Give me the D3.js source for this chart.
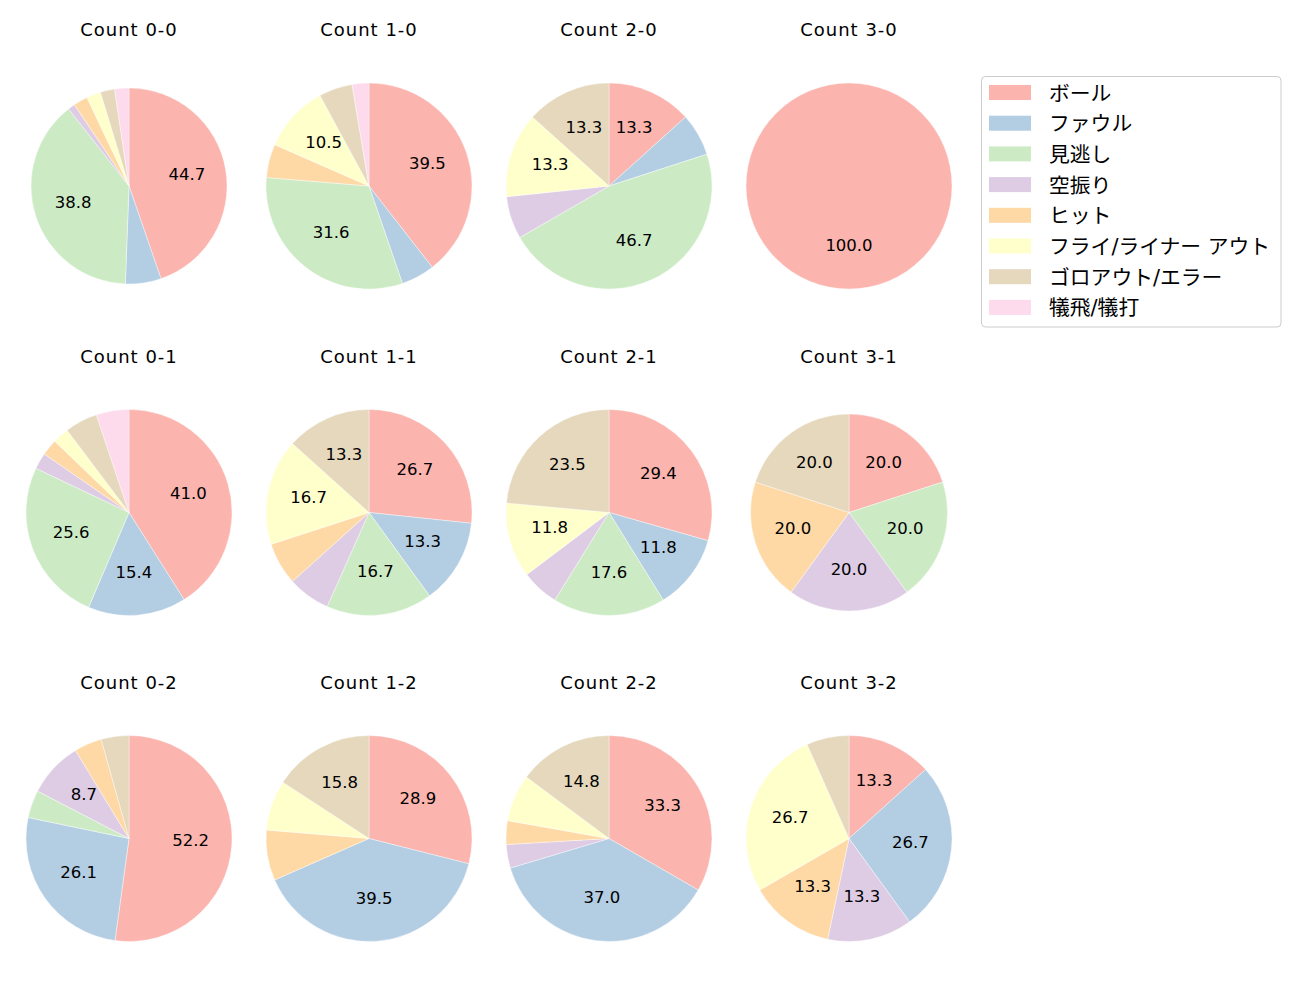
<!DOCTYPE html>
<html><head><meta charset="utf-8">
<script src="https://cdn.jsdelivr.net/npm/d3@7"></script>
<style>body{margin:0;background:#fff;} svg{display:block;font-family:"DejaVu Sans","Noto Sans CJK JP",sans-serif;}</style>
</head><body>
<script>
// ---- data ----
const categories = ["ボール","ファウル","見逃し","空振り","ヒット","フライ/ライナー アウト","ゴロアウト/エラー","犠飛/犠打"];
const colors = ["#fbb4ae","#b3cde3","#ccebc5","#decbe4","#fed9a6","#ffffcc","#e5d8bd","#fddaec"];
const panelTitles = ["Count 0-0","Count 1-0","Count 2-0","Count 3-0",
                     "Count 0-1","Count 1-1","Count 2-1","Count 3-1",
                     "Count 0-2","Count 1-2","Count 2-2","Count 3-2"];
const count00 = [38,5,33,1,2,2,2,2];
const count10 = [15,2,12,0,2,4,2,1];
const count20 = [2,1,7,1,0,2,2,0];
const count30 = [1,0,0,0,0,0,0,0];
const count01 = [16,6,10,1,1,1,2,2];
const count11 = [8,4,5,2,2,5,4,0];
const count21 = [5,2,3,1,0,2,4,0];
const count31 = [1,0,1,1,1,0,1,0];
const count02 = [12,6,1,2,1,0,1,0];
const count12 = [11,15,0,0,3,3,6,0];
const count22 = [9,10,0,1,1,2,4,0];
const count32 = [2,4,0,2,2,4,1,0];
const panelValues = [count00,count10,count20,count30,count01,count11,count21,count31,count02,count12,count22,count32];
const labelThreshold = 8; // percent

// ---- layout ----
const W = 1300, H = 1000;
const colX = [129, 369, 609, 849];
const rowY = [186, 512.5, 838.5];
const titleBaselineOffset = -150;
const panelRadius = [98,103,103,103, 103,103,103,98.5, 103,103,103,103];

const svg = d3.select("body").append("svg").attr("width", W).attr("height", H);
const pie = d3.pie().sort(null).value(d => d).startAngle(0).endAngle(2*Math.PI);

panelValues.forEach((vals, i) => {
  const cx = colX[i % 4], cy = rowY[Math.floor(i / 4)], r = panelRadius[i];
  const total = d3.sum(vals);
  const g = svg.append("g").attr("transform", `translate(${cx},${cy})`);
  const arc = d3.arc().innerRadius(0).outerRadius(r);
  const labelArc = d3.arc().innerRadius(r*0.6).outerRadius(r*0.6);
  const arcs = pie(vals).map((a, k) => ({...a, k}));
  g.selectAll("path").data(arcs.filter(a => a.value > 0)).join("path")
    .attr("d", arc).attr("fill", a => colors[a.k])
    .attr("stroke", "#fff").attr("stroke-width", 0.4);
  g.selectAll("text.pct").data(arcs.filter(a => a.value / total * 100 >= labelThreshold)).join("text")
    .attr("class", "pct")
    .attr("transform", a => { const c = labelArc.centroid(a); return `translate(${c[0]},${c[1] - 2.5})`; })
    .attr("text-anchor", "middle").attr("dy", "0.365em")
    .attr("font-size", 16.5).attr("fill", "#000")
    .text(a => (a.value / total * 100).toFixed(1));
  svg.append("text").attr("x", cx).attr("y", cy + titleBaselineOffset)
    .attr("text-anchor", "middle")
    .attr("font-size", 18).attr("letter-spacing", 1).attr("fill", "#000").text(panelTitles[i]);
});

// legend
const lg = svg.append("g").attr("transform", "translate(981.5,76.5)");
lg.append("rect").attr("width", 299.5).attr("height", 250.5).attr("rx", 4)
  .attr("fill", "#fff").attr("stroke", "#cccccc").attr("stroke-width", 1);
categories.forEach((c, k) => {
  const y = 16 + k * 30.7;
  lg.append("rect").attr("x", 7.5).attr("y", y - 7.5).attr("width", 42).attr("height", 15).attr("fill", colors[k]);
  lg.append("text").attr("x", 67.5).attr("y", y + 1).attr("dominant-baseline", "central")
    .attr("font-size", 20.8).attr("fill", "#000").text(c);
});
</script>
</body></html>
